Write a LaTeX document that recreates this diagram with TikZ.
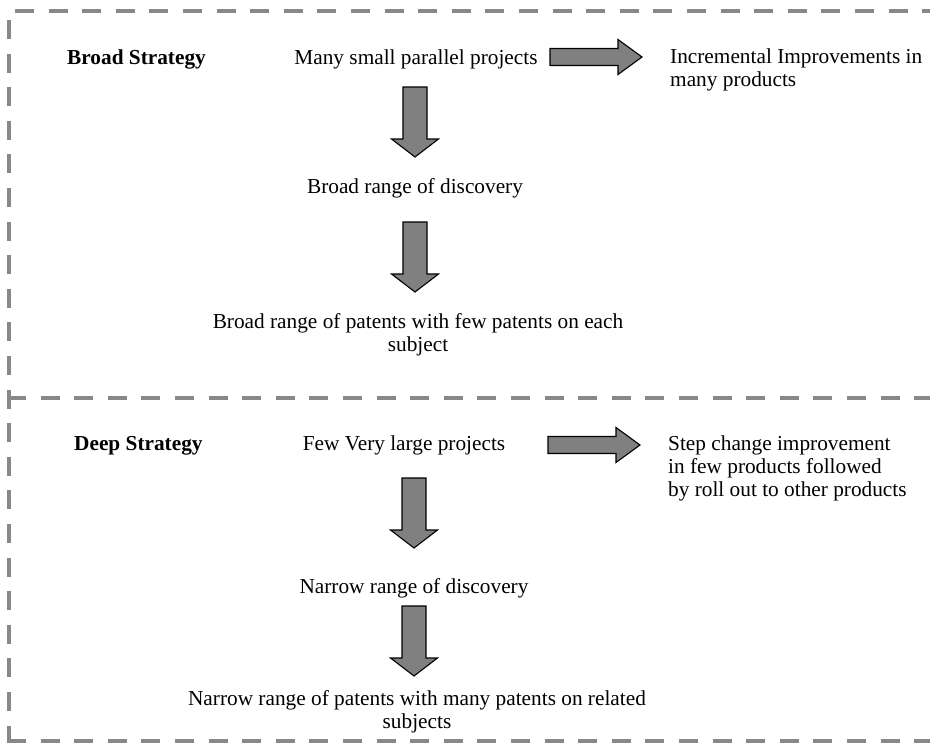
\documentclass[tikz,border=0pt]{standalone}
\usepackage{fontspec}
\setmainfont{Liberation Serif}
\definecolor{framegray}{RGB}{136,136,136}
\definecolor{arrowgray}{RGB}{128,128,128}
\tikzset{
  frameline/.style={draw=framegray, line width=4pt, dash pattern=on 19pt off 14.6pt},
  blockarrow/.style={fill=arrowgray, draw=black, line width=1.1pt, line join=miter},
  txt/.style={inner sep=0pt, font=\fontsize{21.3}{23}\selectfont},
  head/.style={txt, font=\fontsize{21.3}{23}\selectfont\bfseries},
  pics/downarrow/.style={code={
    \draw[blockarrow] (-12,0) -- (12,0) -- (12,52) -- (23.5,52) -- (0,70)
      -- (-23.5,52) -- (-12,52) -- cycle;}},
  pics/rightarrow/.style={code={
    \draw[blockarrow] (0,-8.5) -- (68,-8.5) -- (68,-17.5) -- (92,0)
      -- (68,17.5) -- (68,8.5) -- (0,8.5) -- cycle;}},
}
\begin{document}
\begin{tikzpicture}[x=1pt,y=-1pt]
\useasboundingbox (0,0) rectangle (930,747);

% dashed frame: top, left and bottom edges, and the divider between the strategies
\draw[frameline] (15,11) -- (930,11);
\draw[frameline] (9,20) -- (9,743);
\draw[frameline] (7,741) -- (930,741);
\draw[frameline] (7,398) -- (930,398);

% broad strategy (multi-line nodes are placed by the baseline of their last line)
\node[head, anchor=base west] (broad) at (67,64) {Broad Strategy};
\node[txt, anchor=base] (many) at (416,64) {Many small parallel projects};
\pic (arrA) at (550,57) {rightarrow};
\node[txt, anchor=base west, align=left] (incr) at (670,86)
  {Incremental Improvements in\\many products};
\pic (arrB) at (415,87) {downarrow};
\node[txt, anchor=base] (brdisc) at (415,193) {Broad range of discovery};
\pic (arrC) at (415,222) {downarrow};
\node[txt, anchor=base, align=center] (brpat) at (418,351)
  {Broad range of patents with few patents on each\\subject};

% deep strategy
\node[head, anchor=base west] (deep) at (74,450) {Deep Strategy};
\node[txt, anchor=base] (few) at (404,450) {Few Very large projects};
\pic (arrD) at (548,445) {rightarrow};
\node[txt, anchor=base west, align=left] (step) at (668,496)
  {Step change improvement\\in few products followed\\by roll out to other products};
\pic (arrE) at (414,478) {downarrow};
\node[txt, anchor=base] (nrdisc) at (414,593) {Narrow range of discovery};
\pic (arrF) at (414,606) {downarrow};
\node[txt, anchor=base, align=center] (nrpat) at (417,728)
  {Narrow range of patents with many patents on related\\subjects};
\end{tikzpicture}
\end{document}
